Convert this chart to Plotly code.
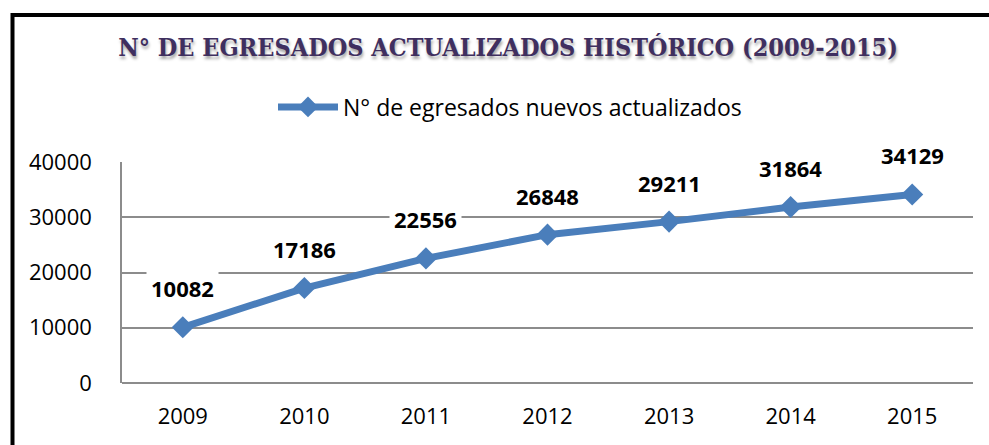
import plotly.graph_objects as go

years = ["2009", "2010", "2011", "2012", "2013", "2014", "2015"]
egresados = [10082, 17186, 22556, 26848, 29211, 31864, 34129]
y_ticks = [0, 10000, 20000, 30000, 40000]
series_name = "N° de egresados nuevos actualizados"
title_text = "N° DE EGRESADOS ACTUALIZADOS HISTÓRICO (2009-2015)"

W, H = 989, 445
ML, MR, MT, MB = 122, 16, 162, 62
pw, ph = W - ML - MR, H - MT - MB

def px_x(p):
    return (p - ML) / pw

def px_y(p):
    return (H - MB - p) / ph

blue = "#4a7ebb"
grid = "#8c8c8c"
sans = "Open Sans, Lato, sans-serif"

fig = go.Figure()
fig.add_trace(go.Scatter(
    x=years, y=egresados, mode="lines+markers", name=series_name,
    line=dict(color=blue, width=7),
    marker=dict(symbol="diamond", size=17, color=blue),
))

for i, v in enumerate(egresados):
    fig.add_annotation(
        x=i, y=v, xref="x", yref="y", text=f"<b>{v}</b>", showarrow=False,
        yshift=39, bgcolor="white", borderpad=4,
        font=dict(family=sans, size=22, color="black"),
    )

fig.update_layout(
    width=W, height=H,
    margin=dict(l=ML, r=MR, t=MT, b=MB),
    paper_bgcolor="white", plot_bgcolor="white",
    title=dict(
        text=title_text, x=508 / W, y=1 - 47 / H, xanchor="center", yanchor="middle",
        font=dict(family="DejaVu Serif Condensed, DejaVu Serif, serif", size=25,
                  color="#3f2f5f", weight="bold", shadow="1px 3px 3px rgba(0,0,0,0.35)"),
    ),
    showlegend=True,
    legend=dict(
        x=px_x(510), y=px_y(107), xanchor="center", yanchor="middle",
        orientation="h", itemwidth=60, bgcolor="rgba(0,0,0,0)",
        font=dict(family=sans, size=23, color="black"),
    ),
    shapes=[dict(
        type="rect", xref="paper", yref="paper",
        x0=px_x(12.5), x1=px_x(1020), y0=px_y(500), y1=px_y(15),
        line=dict(color="black", width=4), layer="above",
    )],
)

fig.update_xaxes(
    type="category", range=[-0.5, len(years) - 0.5],
    showgrid=False, showline=False, zeroline=False, ticks="",
    ticklabelstandoff=18,
    tickfont=dict(family=sans, size=22, color="black"),
)
fig.update_yaxes(
    range=[0, 40000], tickvals=y_ticks, ticktext=[str(t) for t in y_ticks],
    showgrid=True, gridcolor=grid, gridwidth=1.5,
    zeroline=True, zerolinecolor=grid, zerolinewidth=1.5,
    showline=True, linecolor=grid, linewidth=1.5, ticks="",
    ticklabelstandoff=24,
    tickfont=dict(family=sans, size=22, color="black"),
)

fig.write_html(
    "out.html",
    config={"displayModeBar": False},
    post_script="document.body.style.margin='0';document.body.style.overflow='hidden';",
)
